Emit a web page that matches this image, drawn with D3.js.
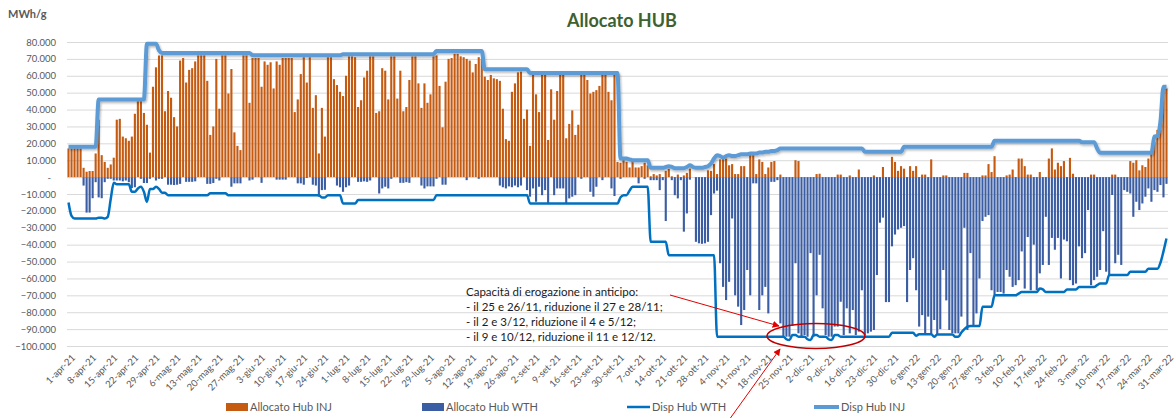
<!DOCTYPE html>
<html>
<head>
<meta charset="utf-8">
<script src="https://cdn.jsdelivr.net/npm/d3@7"></script>
<style>
  body { margin: 0; background: #fff; }
  text { font-family: Lato, "Open Sans", sans-serif; }
</style>
</head>
<body>
<div id="chart"></div>
<script>
// valori giornalieri 1-apr-21 ... 31-mar-22, in migliaia di MWh/g
var allocatoInj = [
  17, 17, 17, 17, 17, 5.5, 3.2, 3.6, 3.6, 14,
  34, 13, 9, 5.5, 7.5, 11.5, 34, 34.5, 24, 23,
  21.5, 24, 37.5, 45, 45, 38, 31, 14.5, 53.5, 65,
  72, 72, 39, 51, 47, 35.5, 30, 69, 70.5, 56,
  63.5, 64.5, 68.5, 72, 72, 72, 57, 25, 30, 70,
  40.5, 72, 72, 49.5, 64, 26.5, 18.5, 16, 72, 72,
  44, 70.5, 70.5, 70.5, 53.5, 68.5, 66.5, 68, 52.5, 68.5,
  66.5, 70.5, 70.5, 70.5, 70.5, 38.5, 46, 61, 71, 56,
  71, 41, 48.5, 14, 41, 24, 71, 71, 58, 54.5,
  50.5, 48, 60, 71.5, 71.5, 71, 41.5, 45.5, 59, 63,
  71.5, 71.5, 38, 39, 64.5, 63, 46, 71.5, 71.5, 46.5,
  63, 39, 41.5, 57.5, 71.5, 71.5, 55.5, 41, 55.5, 44,
  49, 71.5, 72, 54, 29.5, 56.5, 70, 70.5, 73, 73,
  71.5, 71, 70, 69, 62, 67, 71, 70, 59.5, 57.5,
  60.5, 58.5, 58, 57, 40.5, 22.5, 21.5, 50.5, 55.5, 62,
  62.5, 34.5, 40, 18.5, 62, 49, 38.5, 60.5, 60.5, 22,
  52, 34, 51, 60.5, 60.5, 23, 31.5, 39.5, 25, 31,
  60.5, 60.5, 57.5, 49.5, 50.5, 51.5, 54, 60.5, 60.5, 50.5,
  45.5, 60.5, 9, 8.5, 10.5, 9, 5.7, 9, 5.7, 5.7,
  6.5, 8.5, 7, 0.5, 1.8, 1, 1.8, 0, 3.7, 5,
  0.5, 0, 1.5, 0, 1, 2.5, 5, 0, 0, 0,
  0, 0, 4, 3.7, 7.7, 1.8, 10.5, 11, 11, 7,
  7.7, 1.8, 1.8, 6.5, 6.5, 0, 13.6, 13.6, 1.8, 10.5,
  9, 1.8, 5.7, 9, 9.5, 0, 1.5, 0, 0, 0,
  0, 10, 9.5, 0, 0, 0, 0, 0, 1.8, 2,
  0, 0, 0, 0, 0, 1.5, 1.5, 0, 0, 1,
  0, 0, 4.5, 0, 0, 0, 0, 1, 0, 0,
  6, 0, 0, 12, 9, 3.7, 6.5, 5, 0, 6.5,
  3.7, 6.5, 0, 1.5, 1.5, 0, 10.5, 0, 0, 0,
  1, 1, 0, 0, 0, 0, 0, 2.5, 2.5, 0,
  0, 0, 0, 1, 1, 7.7, 3, 12.4, 0, 0,
  0, 1, 1.5, 4.5, 0, 11, 11, 6.5, 1.5, 1.5,
  0, 0, 3, 0, 0, 11, 17, 4.5, 8.5, 6.5,
  9.5, 0, 11.4, 2, 0, 0, 0, 0, 0, 1.5,
  1.5, 0, 0, 0, 0, 0, 1.5, 1.5, 0, 0,
  0, 0, 9.5, 8.5, 10, 4, 7, 6, 11, 14.4,
  21, 28, 33, 52.5, 52.5
];

var allocatoWth = [
  0, 0, 0, 0, 0, -5, -21, -21, -12.5, -3,
  -12, -12.5, -3, -1, -1, -2, -2, -2, -2.5, -2,
  -3, -6.5, -6, 0, -1, -3.5, -3.5, -1, 0, -2,
  -1, -1, 0, -4.5, -4.5, -4.7, -4.5, -4, 0, -2.8,
  -2.8, -2.8, -2.5, 0, 0, 0, -4, -4, -3.5, -1,
  -2, 0, 0, 0, -5.7, -3.7, -3.7, -3.7, 0, 0,
  -2, -1.5, 0, 0, -3.4, 0, 0, 0, 0, -1.5,
  -1.5, -1.5, -1.5, 0, 0, 0, -3.7, -3.7, -4.5, -0.5,
  0, -4.5, -5, -11.6, -7.7, -7.5, 0, 0, 0, -5,
  -6, -8.7, -6, -5, 0, 0, -2.8, -2.8, -2.5, -2.8,
  -2, 0, 0, -9.7, -6.7, -5.7, -6.7, -1, 0, 0,
  -3.4, -3.4, -3, -3.4, 0, 0, 0, -5, -6.7, -5.5,
  -5.5, -5.5, -1, 0, -4.5, -4.5, 0, 0, 0, 0,
  0, 0, -1.8, 0, 0, 0, -1, 0, 0, 0,
  0, 0, 0, -5, -6, -6.7, -5.5, -6, -5, -6,
  -5, 0, -7.7, -11.6, -6.7, -14.6, -5.7, -10.7, -7.7, -15.6,
  0, -10.7, -6.7, -6.7, -6.7, -15.6, -12.6, -11.6, -10.7, 0,
  -1, 0, 0, -8.7, -11.6, -5.7, 0, -1.8, 0, 0,
  -6.7, -11.2, 0, -1, 0, 0, 0, 0, 0, -3.7,
  0, -1, 0, -1.8, -1.8, -1.8, -7.7, -1.8, -26, 0,
  -1.8, -10.7, -12.6, -1.8, -32.3, -21.5, -1.5, 0, -38.3, -39.2,
  -39.5, -39.2, -38.3, -22.5, -9.7, -8, -51, -65, -72.8, -62,
  -24.5, -70, -76.7, -87.6, -78.7, -55, -70, -3.7, -3.7, -78.7,
  -70, -65, -80.7, -2.8, -2.8, -1.8, -86.6, -94.5, -94.5, -94.5,
  -88, -51, -92.5, -94.5, -93.5, -94.5, -45, -94.5, -70, -46,
  -77.7, -93.5, -94.5, -94.5, -88.5, -88.5, -73.8, -93.5, -77.7, -92.5,
  -78.7, -93.5, -91.5, -67, -93.5, -92.5, -91.5, -90.5, -58, -27,
  -24, -74, -74, -41, -34, -31, -30, -29, -74, -55,
  -48, -67, -88.5, -81.7, -92.5, -82.6, -93.5, -84.6, -93.5, -90,
  -55, -73, -90.5, -92.5, -92.5, -92.5, -82.6, -30, -90.5, -45,
  -88.5, -80.7, -60, -26, -23.5, -22.5, -67, -70, -68, -68,
  -69, -55, -59, -65, -64, -61, -44, -66, -35.5, -67,
  -40, -67, -57, -52, -23.5, -52, -36, -43, -36, -60,
  -37, -38, -61, -64, -63, -41, -48, -45, -19.5, -64,
  -61, -59, -55, -32, -56, -58, -10.6, -51, -46, -52,
  -7.7, -8.7, -9.7, -23.5, -14.6, -19.5, -15.6, -11.6, -6.7, -14.6,
  -7.7, -8.7, -4.7, -12, -4
];

var dispWth = [
  -15, -23, -24.5, -24.5, -24.5, -24.5, -24.5, -24.5, -24.5, -24.5,
  -24, -24, -24.5, -23.5, -13, -3.4, -4.3, -4.3, -4.3, -4.3,
  -4.3, -8.7, -8.7, -6.7, -5.7, -8.7, -14.6, -7, -7, -5.7,
  -7, -9.3, -9.3, -10.7, -10.7, -10.7, -10.7, -10.7, -10.7, -10.7,
  -10.7, -10.7, -10.7, -10.7, -10.7, -10.7, -10.7, -9.6, -9.6, -9.6,
  -9.6, -9.6, -9.6, -10.7, -10.7, -10.7, -10.7, -10.7, -10.7, -10.7,
  -10.7, -10.7, -10.7, -10.7, -10.7, -10.7, -10.7, -10.7, -10.7, -10.7,
  -10.7, -10.7, -10.7, -10.7, -10.7, -10.7, -10.7, -10.7, -10.7, -10.7,
  -10.7, -10.7, -10.7, -10.7, -12, -12, -10.7, -10.7, -10.7, -10.7,
  -10.7, -15.6, -15.6, -15.6, -15.6, -15.6, -13.6, -13.6, -13.6, -13.6,
  -13.6, -13.6, -13.6, -13.6, -13.6, -13.6, -13.6, -13.6, -13.6, -13.6,
  -13.6, -13.6, -13.6, -13.6, -13.6, -13.6, -13.6, -13.6, -13.6, -13.6,
  -13.6, -13.6, -10.7, -10.7, -10.7, -10.7, -10.7, -10.7, -10.7, -10.7,
  -10.7, -10.7, -10.7, -10.7, -10.7, -10.7, -10.7, -10.7, -10.7, -10.7,
  -10.7, -10.7, -10.7, -10.7, -10.7, -10.7, -10.7, -10.7, -10.7, -10.7,
  -10.7, -10.7, -10.7, -15.6, -15.6, -15.6, -15.6, -15.6, -15.6, -15.6,
  -15.6, -15.6, -15.6, -15.6, -15.6, -15.6, -15.6, -15.6, -15.6, -15.6,
  -15.6, -15.6, -15.6, -15.6, -15.6, -15.6, -15.6, -15.6, -15.6, -15.6,
  -15.6, -15.6, -15.6, -12, -10.7, -10.7, -8, -5.7, -5.7, -5.7,
  -5.7, -5.7, -5.7, -38.3, -38.3, -38.3, -38.3, -38.3, -38.3, -46.2,
  -46.2, -46.2, -46.2, -46.2, -46.2, -46.2, -46.2, -46.2, -46.2, -46.2,
  -46.2, -46.2, -46.2, -46.2, -46.2, -94.5, -94.5, -94.5, -94.5, -94.5,
  -94.5, -94.5, -94.5, -94.5, -94.5, -94.5, -94.5, -94.5, -94.5, -94.5,
  -94.5, -94.5, -94.5, -94.5, -94.5, -94.5, -94.5, -94.5, -96, -96.5,
  -93.5, -93.5, -94.5, -94.5, -94.5, -96, -96.5, -93.5, -93.5, -94.5,
  -94.5, -94.5, -96, -96.5, -93.5, -93.5, -94.5, -94.5, -94.5, -94.5,
  -94.5, -94.5, -94.5, -94.5, -94.5, -94.5, -94.5, -94.5, -94.5, -94.5,
  -94.5, -94.5, -94.5, -92.2, -92.2, -92.2, -92.2, -92.2, -92.2, -92.2,
  -92.2, -94, -93, -93, -93, -93, -93, -94.5, -93.2, -93.2,
  -93.2, -93.2, -93.2, -93.2, -94.5, -94.5, -92, -90, -88.6, -88.2,
  -88.2, -88.2, -88.2, -76.8, -76.8, -76.8, -76.8, -70, -70, -70,
  -70, -70, -70, -70, -70, -69, -68, -68, -68, -68,
  -68, -68, -66, -66.5, -68, -68, -68, -68, -68, -68,
  -68, -66.5, -66.5, -66.5, -66.5, -65, -65, -65, -65, -65,
  -65, -64, -63, -63, -63, -58, -58, -58, -58, -58,
  -58, -58, -56, -56, -56, -56, -56, -56, -54.3, -54.3,
  -54.3, -54.3, -50.7, -44, -36.3
];

var dispInj = [
  18, 18, 18, 18, 18, 18, 18, 18, 18, 18,
  46, 46, 46, 46, 46, 46, 46, 46, 46, 46,
  46, 46, 46, 46, 46, 46, 79, 79, 79, 79,
  75, 73.5, 73.5, 73.5, 73.5, 73.5, 73.5, 73.5, 73.5, 73.5,
  73.5, 73.5, 73.5, 73.5, 73.5, 73.5, 73.5, 73.5, 73.5, 73.5,
  73.5, 73.5, 73.5, 73.5, 73.5, 73.5, 73.5, 73.5, 73.5, 73.5,
  73.5, 72.2, 72.2, 72.2, 72.2, 72.2, 72.2, 72.2, 72.2, 72.2,
  72.2, 72.2, 72.2, 72.2, 72.2, 72.2, 72.2, 72.2, 72.2, 72.2,
  72.2, 72.2, 72.2, 72.2, 72.2, 72.2, 72.2, 72.2, 72.2, 72.2,
  72.2, 72.8, 72.8, 72.8, 72.8, 72.8, 72.8, 72.8, 72.8, 72.8,
  72.8, 72.8, 72.8, 72.8, 72.8, 72.8, 72.8, 72.8, 72.8, 72.8,
  72.8, 72.8, 72.8, 72.8, 72.8, 72.8, 72.8, 72.8, 72.8, 72.8,
  72.8, 72.8, 74.6, 74.6, 74.6, 74.6, 74.6, 74.6, 74.6, 74.6,
  74.6, 74.6, 74.6, 74.6, 74.6, 74.6, 74.6, 74.6, 63.8, 63.8,
  63.8, 63.8, 63.8, 63.8, 63.8, 63.8, 63.8, 63.8, 63.8, 63.8,
  63.8, 63.8, 63.8, 61.6, 61.6, 61.6, 61.6, 61.6, 61.6, 61.6,
  61.6, 61.6, 61.6, 61.6, 61.6, 61.6, 61.6, 61.6, 61.6, 61.6,
  61.6, 61.6, 61.6, 61.6, 61.6, 61.6, 61.6, 61.6, 61.6, 61.6,
  61.6, 61.6, 61.6, 11, 11, 11, 10.5, 10, 10, 10,
  10, 10, 10, 5.5, 5.5, 5.5, 5.5, 5.5, 6, 6.5,
  6, 5.3, 5.3, 5.3, 5.3, 6, 7, 6, 5.5, 5.5,
  5.5, 6, 6.5, 8, 11, 13, 12.5, 11.5, 12.5, 13,
  12.5, 12.5, 13, 13.5, 13.5, 13.5, 14, 14, 14, 14.5,
  14.5, 15, 15, 15.5, 15.5, 16, 17, 17, 17, 17,
  17, 17, 17, 17, 17, 17, 17, 17, 17, 17,
  17, 17, 17, 17, 17, 17, 17, 17, 17, 17,
  17, 17, 17, 17, 15, 15, 15, 15, 15, 15,
  15, 15, 15, 15, 15, 15, 15, 18, 18, 18,
  18, 18, 18, 18, 18, 18, 18, 18, 18, 18,
  18, 18, 18, 18, 18, 18, 18, 18, 18, 18,
  18, 18, 18, 18, 18, 18, 18, 21.5, 21.5, 21.5,
  21.5, 21.5, 21.5, 21.5, 21.5, 21.5, 21.5, 21.5, 21.5, 21.5,
  21.5, 21.5, 21.5, 21.5, 21.5, 21.5, 21.5, 21.5, 21.5, 21.5,
  21.5, 21.5, 21.5, 21.5, 21.5, 21.5, 20.7, 20.7, 20.7, 20.7,
  20.7, 17, 14.4, 14.4, 14.4, 14.4, 14.4, 14.4, 14.4, 14.4,
  14.4, 14.4, 14.4, 14.4, 14.4, 14.4, 14.4, 14.4, 14.4, 14.4,
  24, 24.5, 33, 53.5, 53.5
];

var tickLabels = [
  "1-apr-21", "8-apr-21", "15-apr-21", "22-apr-21", "29-apr-21", "6-mag-21", "13-mag-21",
  "20-mag-21", "27-mag-21", "3-giu-21", "10-giu-21", "17-giu-21", "24-giu-21", "1-lug-21",
  "8-lug-21", "15-lug-21", "22-lug-21", "29-lug-21", "5-ago-21", "12-ago-21", "19-ago-21",
  "26-ago-21", "2-set-21", "9-set-21", "16-set-21", "23-set-21", "30-set-21", "7-ott-21",
  "14-ott-21", "21-ott-21", "28-ott-21", "4-nov-21", "11-nov-21", "18-nov-21", "25-nov-21",
  "2-dic-21", "9-dic-21", "16-dic-21", "23-dic-21", "30-dic-21", "6-gen-22", "13-gen-22",
  "20-gen-22", "27-gen-22", "3-feb-22", "10-feb-22", "17-feb-22", "24-feb-22", "3-mar-22",
  "10-mar-22", "17-mar-22", "24-mar-22", "31-mar-22"
];
var mesi = ["gen", "feb", "mar", "apr", "mag", "giu", "lug", "ago", "set", "ott", "nov", "dic"];
var yTicks = [80, 70, 60, 50, 40, 30, 20, 10, 0, -10, -20, -30, -40, -50, -60, -70, -80, -90, -100];
var nota = [
  "Capacità di erogazione in anticipo:",
  "- il 25 e 26/11, riduzione il 27 e 28/11;",
  "- il 2 e 3/12, riduzione il 4 e 5/12;",
  "- il 9 e 10/12, riduzione il 11 e 12/12."
];

// giorni (categorie dell'asse x)
var giorni = d3.timeDay.range(new Date(2021, 3, 1), new Date(2022, 3, 1)).map(function(d) {
  return d.getDate() + "-" + mesi[d.getMonth()] + "-" + String(d.getFullYear()).slice(2);
});
[allocatoInj, allocatoWth, dispWth, dispInj].forEach(function(a, k) {
  if (a.length !== giorni.length) throw new Error("serie " + k + ": " + a.length + " valori");
});

var width = 1176, height = 418;
var plotLeft = 67, plotRight = 1168, plotTop = 42, plotBottom = 346;

var svg = d3.select("#chart").append("svg")
  .attr("width", width)
  .attr("height", height);

var defs = svg.append("defs");
defs.append("filter").attr("id", "ombra")
  .attr("x", "-5%").attr("y", "-20%").attr("width", "110%").attr("height", "140%")
  .append("feDropShadow")
    .attr("dx", 1).attr("dy", 1.5).attr("stdDeviation", 1)
    .attr("flood-color", "#000").attr("flood-opacity", 0.3);
defs.append("marker").attr("id", "freccia")
  .attr("viewBox", "0 0 10 10").attr("refX", 9).attr("refY", 5)
  .attr("markerWidth", 7).attr("markerHeight", 7).attr("orient", "auto")
  .append("path").attr("d", "M0,0 L10,5 L0,10 z").attr("fill", "#e00000");

var x = d3.scaleBand()
  .domain(giorni)
  .range([plotLeft, plotRight])
  .paddingInner(0.3)
  .paddingOuter(0.15);

var y = d3.scaleLinear()
  .domain([-100, 80])
  .range([plotBottom, plotTop]);

var it = d3.formatLocale({decimal: ",", thousands: ".", grouping: [3], currency: ["€", ""]});
var fmt = it.format(",.0f");

// griglia
svg.append("g")
  .attr("transform", "translate(" + plotLeft + ",0)")
  .call(d3.axisLeft(y).tickValues(yTicks).tickSize(-(plotRight - plotLeft)).tickFormat(""))
  .call(function(g) { g.select(".domain").remove(); })
  .selectAll("line")
    .attr("stroke", "#d9d9d9")
    .attr("stroke-width", 1);

// asse y
var yAxis = svg.append("g")
  .attr("transform", "translate(" + plotLeft + ",0)")
  .call(d3.axisLeft(y).tickValues(yTicks).tickSize(0).tickPadding(11)
    .tickFormat(function(v) { return v === 0 ? "-" : fmt(v * 1000); }));
yAxis.select(".domain").remove();
yAxis.selectAll("text")
  .attr("fill", "#595959")
  .style("font-size", "9.5px")
  .attr("dx", function(v) { return v === 0 ? -5 : 0; });

// barre
svg.append("g").selectAll("rect")
  .data(allocatoInj)
  .enter()
  .append("rect")
    .attr("x", function(d, i) { return x(giorni[i]); })
    .attr("width", x.bandwidth())
    .attr("y", function(d) { return y(d); })
    .attr("height", function(d) { return y(0) - y(d); })
    .attr("fill", "#c55a11");

svg.append("g").selectAll("rect")
  .data(allocatoWth)
  .enter()
  .append("rect")
    .attr("x", function(d, i) { return x(giorni[i]); })
    .attr("width", x.bandwidth())
    .attr("y", y(0))
    .attr("height", function(d) { return y(d) - y(0); })
    .attr("fill", "#3a5da3");

// linee
var linea = d3.line()
  .x(function(d, i) { return x(giorni[i]) + x.bandwidth() / 2; })
  .y(function(d) { return y(d); })
  .curve(d3.curveMonotoneX);

svg.append("path")
  .datum(dispWth)
  .attr("d", linea)
  .attr("fill", "none")
  .attr("stroke", "#0070c0")
  .attr("stroke-width", 2.5)
  .attr("stroke-linejoin", "round");

svg.append("path")
  .datum(dispInj)
  .attr("d", linea)
  .attr("fill", "none")
  .attr("stroke", "#5b9bd5")
  .attr("stroke-width", 4)
  .attr("stroke-linejoin", "round")
  .attr("filter", "url(#ombra)");

// asse x
var xAxis = svg.append("g")
  .attr("transform", "translate(0," + plotBottom + ")")
  .call(d3.axisBottom(x).tickValues(tickLabels).tickSize(0));
xAxis.select(".domain").remove();
xAxis.selectAll("text")
  .attr("y", 0)
  .attr("dy", "0.35em")
  .attr("text-anchor", "end")
  .attr("transform", "translate(5,10) rotate(-45)")
  .attr("fill", "#595959")
  .style("font-size", "9.5px");

// titolo
svg.append("text")
  .attr("x", 622).attr("y", 27)
  .attr("text-anchor", "middle")
  .attr("fill", "#3d6130")
  .style("font-size", "18px")
  .style("font-weight", "bold")
  .text("Allocato HUB");

svg.append("text")
  .attr("x", 8).attr("y", 18)
  .attr("fill", "#595959")
  .style("font-size", "11px")
  .style("font-weight", "bold")
  .text("MWh/g");

// nota
svg.append("g").selectAll("text")
  .data(nota)
  .enter()
  .append("text")
    .attr("x", 466)
    .attr("y", function(d, i) { return 296 + i * 15; })
    .attr("fill", "#1a1a1a")
    .style("font-size", "11.5px")
    .text(function(d) { return d; });

svg.append("ellipse")
  .attr("cx", 816).attr("cy", 336).attr("rx", 49).attr("ry", 12.5)
  .attr("fill", "none").attr("stroke", "#c00000").attr("stroke-width", 1.5);

svg.append("line")
  .attr("x1", 670).attr("y1", 295).attr("x2", 779).attr("y2", 326)
  .attr("stroke", "#e00000").attr("stroke-width", 1)
  .attr("marker-end", "url(#freccia)");
svg.append("line")
  .attr("x1", 729).attr("y1", 420).attr("x2", 780).attr("y2", 349)
  .attr("stroke", "#e00000").attr("stroke-width", 1)
  .attr("marker-end", "url(#freccia)");

// legenda
var leg = svg.append("g").style("font-size", "11px").attr("fill", "#595959");
leg.append("rect").attr("x", 226).attr("y", 403).attr("width", 22).attr("height", 8).attr("fill", "#c55a11");
leg.append("text").attr("x", 250).attr("y", 411).text("Allocato Hub INJ");
leg.append("rect").attr("x", 422).attr("y", 403).attr("width", 22).attr("height", 8).attr("fill", "#3a5da3");
leg.append("text").attr("x", 446).attr("y", 411).text("Allocato Hub WTH");
leg.append("line").attr("x1", 627).attr("x2", 650).attr("y1", 407).attr("y2", 407)
  .attr("stroke", "#0070c0").attr("stroke-width", 2.5);
leg.append("text").attr("x", 652).attr("y", 411).text("Disp Hub WTH");
leg.append("line").attr("x1", 814).attr("x2", 839).attr("y1", 407).attr("y2", 407)
  .attr("stroke", "#5b9bd5").attr("stroke-width", 4);
leg.append("text").attr("x", 841).attr("y", 411).text("Disp Hub INJ");
</script>
</body>
</html>
